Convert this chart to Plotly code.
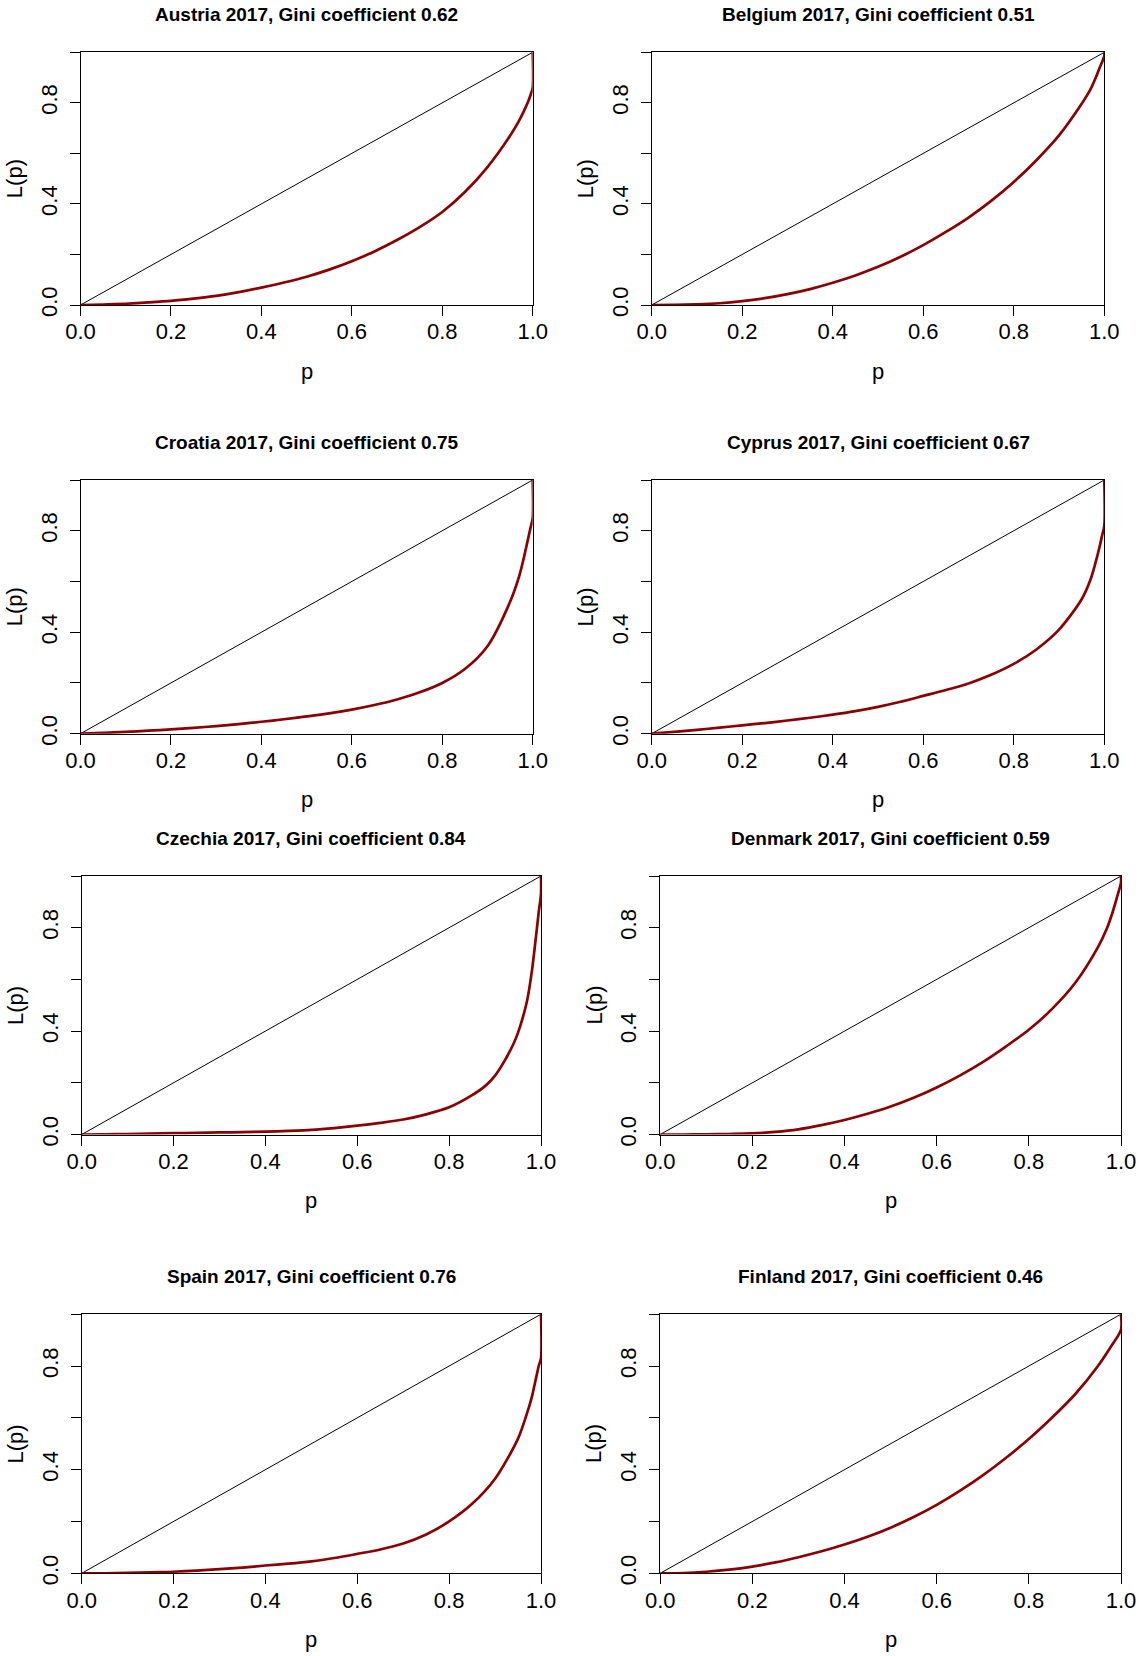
import plotly.graph_objects as go

W, H = 1139, 1656

countries = ["Austria", "Belgium", "Croatia", "Cyprus", "Czechia", "Denmark", "Spain", "Finland"]
year = 2017
gini = [0.62, 0.51, 0.75, 0.67, 0.84, 0.59, 0.76, 0.46]

p_austria = [0, 0.05, 0.1, 0.15, 0.2, 0.25, 0.3, 0.35, 0.4, 0.45, 0.5, 0.55, 0.6, 0.65, 0.7, 0.75,
             0.8, 0.85, 0.9, 0.95, 0.97, 0.98, 0.99, 0.995, 1.0, 1.0]
L_austria = [0, 0.002, 0.005, 0.01, 0.016, 0.025, 0.036, 0.051, 0.069, 0.089, 0.112, 0.14, 0.173, 0.212,
             0.257, 0.308, 0.368, 0.447, 0.546, 0.67, 0.73, 0.765, 0.805, 0.83, 0.86, 1.0]

p_belgium = [0, 0.05, 0.1, 0.15, 0.2, 0.25, 0.3, 0.35, 0.4, 0.45, 0.5, 0.55, 0.6, 0.65, 0.7, 0.75,
             0.8, 0.85, 0.9, 0.95, 0.97, 0.98, 0.99, 1.0, 1.0]
L_belgium = [0, 0.001, 0.003, 0.007, 0.015, 0.027, 0.043, 0.063, 0.088, 0.117, 0.151, 0.191, 0.237,
             0.289, 0.346, 0.412, 0.487, 0.573, 0.671, 0.796, 0.855, 0.895, 0.94, 0.985, 1.0]

p_croatia = [0, 0.05, 0.1, 0.15, 0.2, 0.25, 0.3, 0.35, 0.4, 0.45, 0.5, 0.55, 0.6, 0.65, 0.7, 0.75,
             0.8, 0.85, 0.9, 0.95, 0.97, 0.98, 0.99, 0.995, 1.0, 1.0]
L_croatia = [0, 0.003, 0.007, 0.012, 0.017, 0.023, 0.03, 0.038, 0.047, 0.057, 0.068, 0.08, 0.095,
             0.113, 0.135, 0.163, 0.2, 0.255, 0.345, 0.52, 0.62, 0.69, 0.77, 0.81, 0.85, 1.0]

p_cyprus = [0, 0.05, 0.1, 0.15, 0.2, 0.25, 0.3, 0.35, 0.4, 0.45, 0.5, 0.55, 0.6, 0.65, 0.7, 0.75,
            0.8, 0.85, 0.9, 0.95, 0.97, 0.98, 0.99, 0.995, 1.0, 1.0]
L_cyprus = [0, 0.007, 0.015, 0.024, 0.033, 0.042, 0.052, 0.063, 0.075, 0.089, 0.106, 0.126, 0.149,
            0.172, 0.198, 0.232, 0.275, 0.332, 0.41, 0.53, 0.61, 0.67, 0.74, 0.78, 0.82, 1.0]

p_czechia = [0, 0.05, 0.1, 0.15, 0.2, 0.25, 0.3, 0.35, 0.4, 0.45, 0.5, 0.55, 0.6, 0.65, 0.7, 0.75,
             0.8, 0.85, 0.88, 0.9, 0.92, 0.94, 0.95, 0.96, 0.97, 0.98, 0.99, 0.995, 1.0, 1.0]
L_czechia = [0, 0.001, 0.002, 0.003, 0.005, 0.006, 0.008, 0.009, 0.011, 0.014, 0.018, 0.025, 0.034,
             0.045, 0.058, 0.078, 0.105, 0.152, 0.19, 0.228, 0.283, 0.35, 0.394, 0.45, 0.52, 0.63,
             0.78, 0.86, 0.93, 1.0]

p_denmark = [0, 0.05, 0.1, 0.15, 0.2, 0.25, 0.3, 0.35, 0.4, 0.45, 0.5, 0.55, 0.6, 0.65, 0.7, 0.75,
             0.8, 0.85, 0.9, 0.95, 0.97, 0.98, 0.99, 1.0, 1.0]
L_denmark = [0, 0.0, 0.001, 0.002, 0.004, 0.01, 0.02, 0.036, 0.056, 0.08, 0.108, 0.142, 0.182, 0.228,
             0.28, 0.34, 0.405, 0.485, 0.585, 0.725, 0.8, 0.85, 0.91, 0.975, 1.0]

p_spain = [0, 0.05, 0.1, 0.15, 0.2, 0.25, 0.3, 0.35, 0.4, 0.45, 0.5, 0.55, 0.6, 0.65, 0.7, 0.75,
           0.8, 0.85, 0.9, 0.95, 0.97, 0.98, 0.99, 0.995, 1.0, 1.0]
L_spain = [0, 0.0, 0.002, 0.004, 0.006, 0.01, 0.016, 0.022, 0.03, 0.037, 0.046, 0.059, 0.075, 0.092,
           0.115, 0.15, 0.2, 0.268, 0.365, 0.52, 0.62, 0.68, 0.76, 0.80, 0.83, 1.0]

p_finland = [0, 0.05, 0.1, 0.15, 0.2, 0.25, 0.3, 0.35, 0.4, 0.45, 0.5, 0.55, 0.6, 0.65, 0.7, 0.75,
             0.8, 0.85, 0.9, 0.95, 0.98, 1.0, 1.0]
L_finland = [0, 0.001, 0.006, 0.014, 0.026, 0.042, 0.062, 0.085, 0.111, 0.141, 0.176, 0.217, 0.264,
             0.318, 0.378, 0.445, 0.518, 0.6, 0.69, 0.8, 0.88, 0.94, 1.0]

p_list = [p_austria, p_belgium, p_croatia, p_cyprus, p_czechia, p_denmark, p_spain, p_finland]
L_list = [L_austria, L_belgium, L_croatia, L_cyprus, L_czechia, L_denmark, L_spain, L_finland]

equality_p = [0, 1]
equality_L = [0, 1]

tick_vals = [0, 0.2, 0.4, 0.6, 0.8, 1.0]
x_tick_text = ["0.0", "0.2", "0.4", "0.6", "0.8", "1.0"]
y_tick_text = ["0.0", "", "0.4", "", "0.8", ""]

# panel plot-box positions in pixels: (left, right, top, bottom)
boxes = [
    (80.5, 532.7, 52.3, 305.0), (651.7, 1104.3, 52.3, 305.0),
    (80.5, 532.7, 480.0, 733.7), (651.7, 1104.3, 480.0, 733.7),
    (81.7, 541.0, 876.0, 1134.5), (660.2, 1121.0, 876.0, 1134.5),
    (81.7, 541.0, 1314.2, 1573.3), (660.2, 1121.0, 1314.2, 1573.3),
]
title_y = [14.8, 14.8, 442.7, 442.7, 838.0, 838.0, 1276.4, 1276.4]


def fx(px):
    return px / W


def fy(py):
    return 1 - py / H


FONT = "Liberation Sans, Arial, sans-serif"
fig = go.Figure()
annotations = []
layout = {}

for i, (c, g) in enumerate(zip(countries, gini)):
    k = "" if i == 0 else str(i + 1)
    xa, ya = "x" + k, "y" + k
    l, r, t, b = boxes[i]
    fig.add_trace(go.Scatter(x=equality_p, y=equality_L, mode="lines",
                             line=dict(color="black", width=1), xaxis=xa, yaxis=ya,
                             showlegend=False, hoverinfo="skip"))
    fig.add_trace(go.Scatter(x=p_list[i], y=L_list[i], mode="lines",
                             line=dict(color="#8B0000", width=2.7, shape="spline", smoothing=0.8),
                             xaxis=xa, yaxis=ya, showlegend=False))
    common = dict(range=[0, 1], showline=True, linecolor="black", linewidth=1, mirror=True,
                  ticks="outside", ticklen=10, tickwidth=1, tickcolor="black",
                  showgrid=False, zeroline=False, tickvals=tick_vals, automargin=False,
                  tickfont=dict(family=FONT, size=22, color="black"), layer="below traces")
    layout["xaxis" + k] = dict(common, domain=[fx(l), fx(r)], anchor=ya,
                               ticktext=x_tick_text, ticklabelstandoff=-3)
    layout["yaxis" + k] = dict(common, domain=[fy(b), fy(t)], anchor=xa,
                               ticktext=y_tick_text, tickangle=-90, ticklabelstandoff=4)
    cx = (l + r) / 2
    annotations.append(dict(text="<b>%s %d, Gini coefficient %.2f</b>" % (c, year, g),
                            x=fx(cx), y=fy(title_y[i]), xref="paper", yref="paper",
                            xanchor="center", yanchor="middle", showarrow=False,
                            font=dict(family=FONT, size=19, color="black")))
    annotations.append(dict(text="p", x=fx(cx), y=fy(b + 66), xref="paper", yref="paper",
                            xanchor="center", yanchor="middle", showarrow=False,
                            font=dict(family=FONT, size=22, color="black")))
    annotations.append(dict(text="L(p)", x=fx(l - 66), y=fy((t + b) / 2),
                            xref="paper", yref="paper", textangle=-90,
                            xanchor="center", yanchor="middle", showarrow=False,
                            font=dict(family=FONT, size=22, color="black")))

fig.update_layout(template="none", width=W, height=H,
                  margin=dict(l=0, r=0, t=0, b=0, pad=0, autoexpand=False),
                  paper_bgcolor="white", plot_bgcolor="white",
                  font=dict(family=FONT, color="black"), hovermode=False,
                  annotations=annotations, **layout)

fig.write_html("out.html",
               config={"displayModeBar": False, "staticPlot": True},
               post_script="document.body.style.margin='0px'; document.body.style.overflow='hidden';")
